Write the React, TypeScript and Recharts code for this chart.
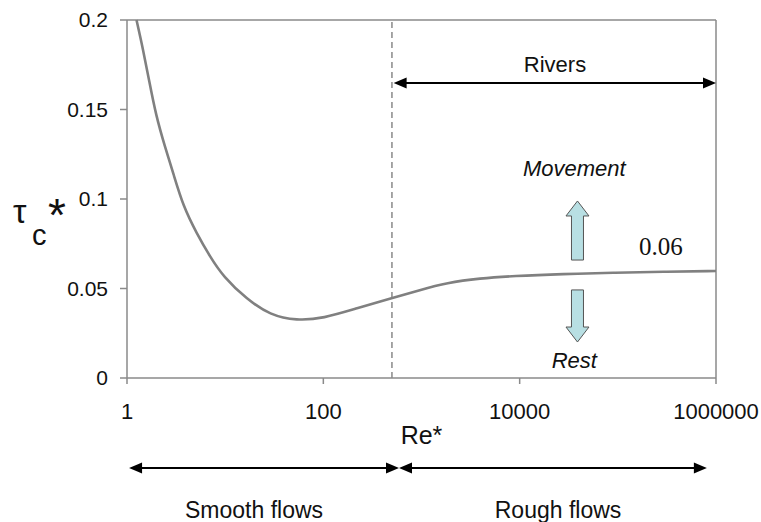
import React from 'react';
import { LineChart, Line, XAxis, YAxis, ReferenceLine, ReferenceDot } from 'recharts';

// Shields curve
const reValues = [1.25, 1.45, 1.69, 1.97, 2.44, 2.96, 3.75, 5.13, 7.01, 9.57, 16.6, 28.6, 53.6, 100, 219, 497, 966, 1805, 3945, 8610, 27800, 89900, 290000, 1000000];
const tauValues = [0.2, 0.1842, 0.1655, 0.1469, 0.129, 0.1144, 0.0957, 0.0808, 0.0678, 0.0566, 0.044, 0.0352, 0.032, 0.0333, 0.0389, 0.0445, 0.0492, 0.0532, 0.0557, 0.057, 0.0581, 0.0588, 0.0594, 0.0598];

const xTicks = [1, 100, 10000, 1000000];
const yTicks = [0, 0.05, 0.1, 0.15, 0.2];

const data = reValues.map((re, i) => ({ re, tau: tauValues[i] }));

const SANS = 'Liberation Sans, Arial, sans-serif';
const AXIS = '#8a8a8a';
const INK = '#111';

const head = (x: number, y: number, dir: number, len = 13, half = 5.5) =>
  `${x},${y} ${x - dir * len},${y - half} ${x - dir * len},${y + half}`;

// horizontal line with arrow heads on both ends
const DoubleArrow = (p: any) => {
  const { x1, x2, y1 } = p;
  const l = Math.min(x1, x2);
  const r = Math.max(x1, x2);
  return (
    <g>
      <line x1={l + 8} x2={r - 8} y1={y1} y2={y1} stroke="#000" strokeWidth={2} />
      <polygon points={head(l, y1, -1)} fill="#000" />
      <polygon points={head(r, y1, 1)} fill="#000" />
    </g>
  );
};

// block arrow from (x1,y1) tail to (x2,y2) tip
const BlockArrow = (p: any) => {
  const { x1, y1, y2 } = p;
  const s = y2 < y1 ? -1 : 1;
  const hb = y2 - s * 15;
  const pts = [
    [x1 - 6, y1], [x1 - 6, hb], [x1 - 11.5, hb], [x1, y2],
    [x1 + 11.5, hb], [x1 + 6, hb], [x1 + 6, y1],
  ].map((q) => q.join(',')).join(' ');
  return <polygon points={pts} fill="#b8dfe3" stroke="#555" strokeWidth={1} />;
};

const textAt = (label: string, style: any) => (p: any) => (
  <text x={p.cx} y={p.cy} textAnchor="middle" fill={INK} fontFamily={SANS} {...style}>
    {label}
  </text>
);

const TauLabel = (props: any) => {
  const vb = props.viewBox || { x: 0, y: 20, height: 358 };
  const cy = vb.y + vb.height / 2;
  return (
    <text fill={INK} fontFamily={SANS}>
      <tspan x={vb.x + 13} y={cy + 24} fontSize={34}>τ</tspan>
      <tspan x={vb.x + 32} y={cy + 46} fontSize={29}>c</tspan>
      <tspan x={vb.x + 48} y={cy + 32} fontSize={46}>*</tspan>
    </text>
  );
};

export default function App() {
  return (
    <div style={{ position: 'absolute', left: 0, top: 0, background: '#fff' }}>
      <LineChart width={761} height={522} data={data} margin={{ top: 20, right: 45, bottom: 74, left: 0 }}>
        <XAxis
          dataKey="re"
          type="number"
          scale="log"
          domain={[1, 1000000]}
          allowDataOverflow
          ticks={xTicks}
          tickFormatter={(v) => String(v)}
          height={70}
          tickSize={6}
          tickMargin={19}
          stroke={AXIS}
          strokeWidth={1.5}
          tick={{ fill: INK, fontSize: 22, fontFamily: SANS }}
          label={{ value: 'Re*', position: 'insideBottom', offset: 4, fontSize: 25, fill: INK, fontFamily: SANS }}
        />
        <YAxis
          type="number"
          domain={[0, 0.2]}
          ticks={yTicks}
          tickFormatter={(v) => String(v)}
          width={127}
          tickSize={7}
          tickMargin={12}
          stroke={AXIS}
          strokeWidth={1.5}
          tick={{ fill: INK, fontSize: 21, fontFamily: SANS }}
          label={{ content: TauLabel }}
        />
        {/* frame */}
        <ReferenceLine y={0.2} stroke={AXIS} strokeWidth={1.5} />
        <ReferenceLine x={1000000} stroke={AXIS} strokeWidth={1.5} />
        {/* smooth/rough boundary */}
        <ReferenceLine x={500} stroke="#777" strokeWidth={1.3} strokeDasharray="6 4" />

        <Line dataKey="tau" type="basis" dot={false} stroke="#808080" strokeWidth={2.6} isAnimationActive={false} />

        <ReferenceLine segment={[{ x: 520, y: 0.1648 }, { x: 1000000, y: 0.1648 }]} ifOverflow="visible" shape={DoubleArrow} />
        <ReferenceLine segment={[{ x: 1.05, y: -0.0503 }, { x: 590, y: -0.0503 }]} ifOverflow="visible" shape={DoubleArrow} />
        <ReferenceLine segment={[{ x: 590, y: -0.0503 }, { x: 807000, y: -0.0503 }]} ifOverflow="visible" shape={DoubleArrow} />

        <ReferenceLine segment={[{ x: 38800, y: 0.0659 }, { x: 38800, y: 0.0989 }]} ifOverflow="visible" shape={BlockArrow} />
        <ReferenceLine segment={[{ x: 38800, y: 0.0492 }, { x: 38800, y: 0.0201 }]} ifOverflow="visible" shape={BlockArrow} />

        <ReferenceDot x={22900} y={0.1709} r={0} ifOverflow="visible" shape={textAt('Rivers', { fontSize: 22 })} />
        <ReferenceDot x={36000} y={0.1128} r={0} ifOverflow="visible" shape={textAt('Movement', { fontSize: 22, fontStyle: 'italic' })} />
        <ReferenceDot x={36000} y={0.0056} r={0} ifOverflow="visible" shape={textAt('Rest', { fontSize: 22, fontStyle: 'italic' })} />
        <ReferenceDot x={275000} y={0.0687} r={0} ifOverflow="visible" shape={textAt('0.06', { fontSize: 25, fontFamily: 'Liberation Serif, Times New Roman, serif' })} />
        <ReferenceDot x={19.7} y={-0.0782} r={0} ifOverflow="visible" shape={textAt('Smooth flows', { fontSize: 23 })} />
        <ReferenceDot x={24600} y={-0.0782} r={0} ifOverflow="visible" shape={textAt('Rough flows', { fontSize: 23 })} />
      </LineChart>
    </div>
  );
}
